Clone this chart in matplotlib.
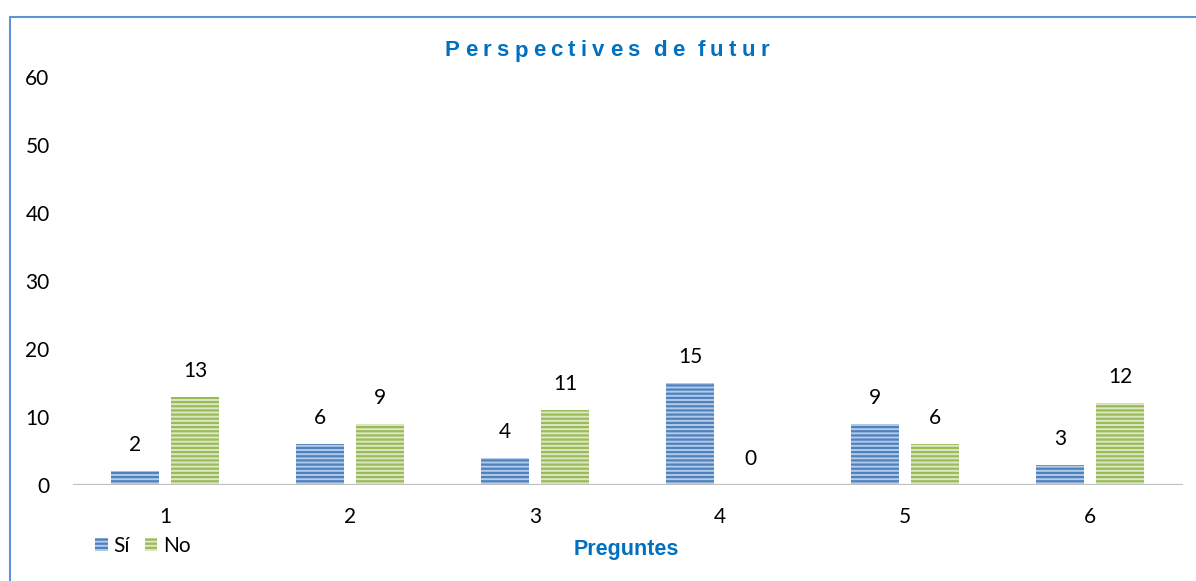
import matplotlib
matplotlib.use("Agg")
import matplotlib.pyplot as plt
import numpy as np
from matplotlib.patches import Rectangle
from matplotlib.textpath import TextPath
from matplotlib.font_manager import FontProperties

categories = ["1", "2", "3", "4", "5", "6"]
si_values = [2, 6, 4, 15, 9, 3]
no_values = [13, 9, 11, 0, 6, 12]
yticks = [0, 10, 20, 30, 40, 50, 60]
series_names = ["Sí", "No"]
title = "Perspectives de futur"
xlabel = "Preguntes"

plt.rcParams['hatch.linewidth'] = 1.6
num_font = "Lato"

fig = plt.figure(figsize=(11.96, 5.81), dpi=100)
ax = fig.add_axes([72.5 / 1196, 96 / 581, 1110 / 1196, 408 / 581])

x = np.arange(len(categories))
w = 0.26
off = 0.162
b1 = ax.bar(x - off, si_values, w, facecolor="#B3CBEA", edgecolor="#4F81BD",
            linewidth=0, hatch="----", label=series_names[0], zorder=2)
b2 = ax.bar(x + off, no_values, w, facecolor="#DCE8C4", edgecolor="#9BBB59",
            linewidth=0, hatch="----", label=series_names[1], zorder=2)

for bars, vals in ((b1, si_values), (b2, no_values)):
    for r, v in zip(bars, vals):
        ax.annotate(str(v), (r.get_x() + r.get_width() / 2, v), xytext=(0, 11.5),
                    textcoords="offset points", ha="center", va="bottom",
                    fontsize=15, family=num_font, color="black")

ax.axhline(0, color="#BFBFBF", linewidth=2.3, zorder=3)
ax.set_xlim(-0.5, len(categories) - 0.5)
ax.set_ylim(0, 60)
ax.set_yticks(yticks)
ax.set_yticklabels([str(t) for t in yticks], fontsize=15, family=num_font)
ax.set_xticks(x)
ax.set_xticklabels(categories, fontsize=15, family=num_font)
ax.tick_params(axis="both", length=0)
ax.tick_params(axis="y", pad=16.5)
ax.tick_params(axis="x", pad=16)
for s in ax.spines.values():
    s.set_visible(False)

# Title with letter tracking
tsize = 16.0
fp = FontProperties(family="Liberation Sans", weight="bold", size=tsize)
px_per_pt = 100 / 72.0


def ext_w(s):
    return TextPath((0, 0), s, prop=fp).get_extents().width


bars_w = ext_w("||")
adv = []
for ch in title:
    if ch == " ":
        adv.append(tsize * 0.12 * px_per_pt)
    else:
        adv.append((ext_w("|" + ch + "|") - bars_w) * px_per_pt)

target_left, target_right = 445.0, 769.0
base = sum(adv)
n_gaps = len(title) - 1
track = (target_right - target_left - base) / n_gaps
xpos = target_left
for ch, a in zip(title, adv):
    if ch != " ":
        fig.text(xpos / 1196, 1 - 51 / 581, ch, ha="left", va="center",
                 fontproperties=fp, color="#0070C0")
    xpos += a + track

fig.text(626 / 1196, 1 - 550 / 581, xlabel, ha="center", va="center",
         fontsize=15.5, fontweight="bold", family="Liberation Sans", color="#0070C0")

leg = fig.legend(handles=[b1, b2], labels=series_names, loc="center left",
                 bbox_to_anchor=(95 / 1196, 1 - 546 / 581), ncol=2, frameon=False,
                 prop={"family": num_font, "size": 15}, handlelength=0.6,
                 handleheight=0.6, handletextpad=0.3, columnspacing=0.7,
                 borderaxespad=0, borderpad=0)

fig.add_artist(Rectangle((9.5 / 1196, -0.1), 1.2, 1.1 - 16.5 / 581,
                         transform=fig.transFigure, fill=False,
                         edgecolor="#5F93D3", linewidth=1.5, clip_on=False))

fig.savefig("out.png", dpi=100)
